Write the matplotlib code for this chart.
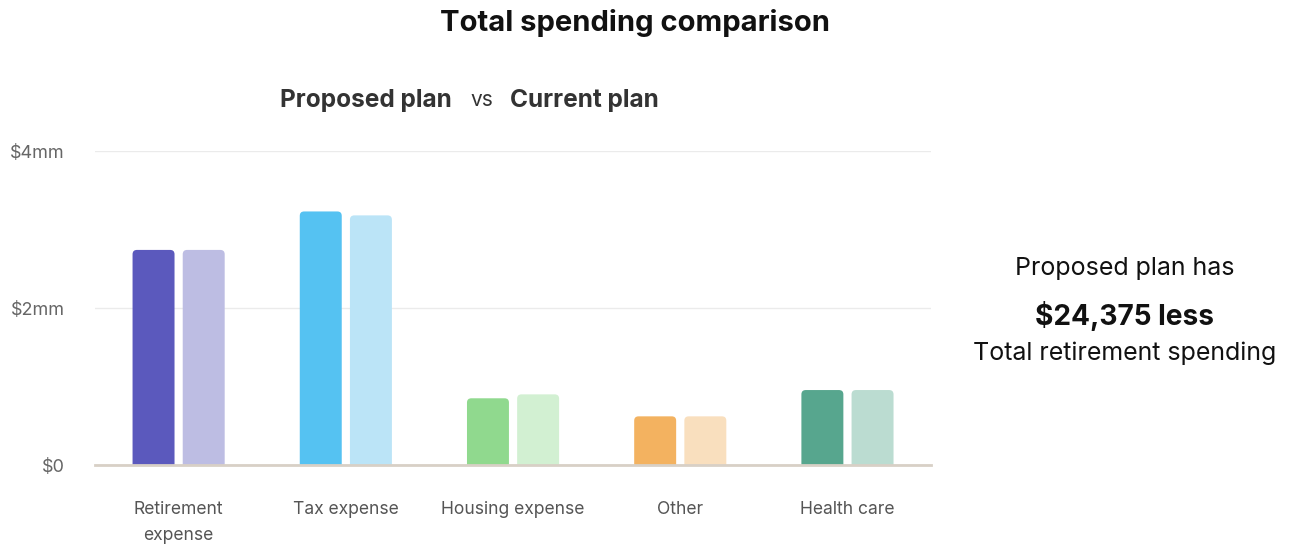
import matplotlib
matplotlib.use('Agg')
import numpy as np
import matplotlib.pyplot as plt
from matplotlib.patches import FancyBboxPatch

plt.rcParams['font.family'] = ['Inter', 'DejaVu Sans']

# spending per category, in $mm
categories = ['Retirement\nexpense', 'Tax expense', 'Housing expense', 'Other', 'Health care']
proposed = [2.74, 3.23, 0.85, 0.62, 0.955]
current = [2.74, 3.18, 0.90, 0.62, 0.955]
proposed_colors = ['#5b59bd', '#55c2f2', '#90d98e', '#f3b260', '#57a68e']
current_colors = ['#bdbde3', '#bbe4f7', '#d2f0d2', '#f9dfbe', '#bbdcd1']
ytick_vals = [0, 2, 4]
ytick_labels = ['$0', '$2mm', '$4mm']

fig = plt.figure(figsize=(12.91, 5.44), dpi=100)
ax = fig.add_axes([0.0736, 0.1452, 0.6476, 0.5772])

x = np.arange(len(categories))
width = 0.251
offset = 0.15

def rounded_bar(xc, h, color):
    # rounded top corners; bottom corners sink below the axis and get clipped
    r = 0.026
    box = FancyBboxPatch((xc - width / 2, -0.2), width, h + 0.2,
                         boxstyle='round,pad=0,rounding_size=%f' % r,
                         mutation_aspect=2.13, facecolor=color,
                         edgecolor='none', zorder=3)
    ax.add_patch(box)

for i in range(len(categories)):
    rounded_bar(x[i] - offset, proposed[i], proposed_colors[i])
    rounded_bar(x[i] + offset, current[i], current_colors[i])

ax.set_xlim(-0.5, len(categories) - 0.5)
ax.set_ylim(0, 4)
ax.set_yticks(ytick_vals)
ax.set_yticklabels(ytick_labels)
ax.set_xticks(x)
ax.set_xticklabels(categories, linespacing=1.65)
ax.tick_params(axis='y', length=0, pad=22, labelsize=13, labelcolor='#666666')
ax.tick_params(axis='x', length=0, pad=26, labelsize=12.6, labelcolor='#555555')

for s in ['top', 'right', 'left']:
    ax.spines[s].set_visible(False)
ax.spines['bottom'].set_color('#d8d0c6')
ax.spines['bottom'].set_linewidth(2)
ax.spines['bottom'].set_zorder(4)
ax.yaxis.grid(True, color='#ebebeb', linewidth=1)
ax.set_axisbelow(True)

fig.text(0.492, 0.958, 'Total spending comparison', ha='center', va='center',
         fontsize=21, fontweight='bold', color='#111111')

fig.text(0.2169, 0.816, 'Proposed plan', ha='left', va='center',
         fontsize=17.6, fontweight='bold', color='#333333')
fig.text(0.3641, 0.816, 'vs', ha='left', va='center',
         fontsize=15, color='#333333')
fig.text(0.395, 0.816, 'Current plan', ha='left', va='center',
         fontsize=17.6, fontweight='bold', color='#333333')

fig.text(0.8714, 0.507, 'Proposed plan has', ha='center', va='center',
         fontsize=18, color='#111111')
fig.text(0.8714, 0.419, '$24,375 less', ha='center', va='center',
         fontsize=20.2, fontweight='bold', color='#111111')
fig.text(0.8714, 0.350, 'Total retirement spending', ha='center', va='center',
         fontsize=18, color='#111111')

plt.savefig('out.png', dpi=100)
